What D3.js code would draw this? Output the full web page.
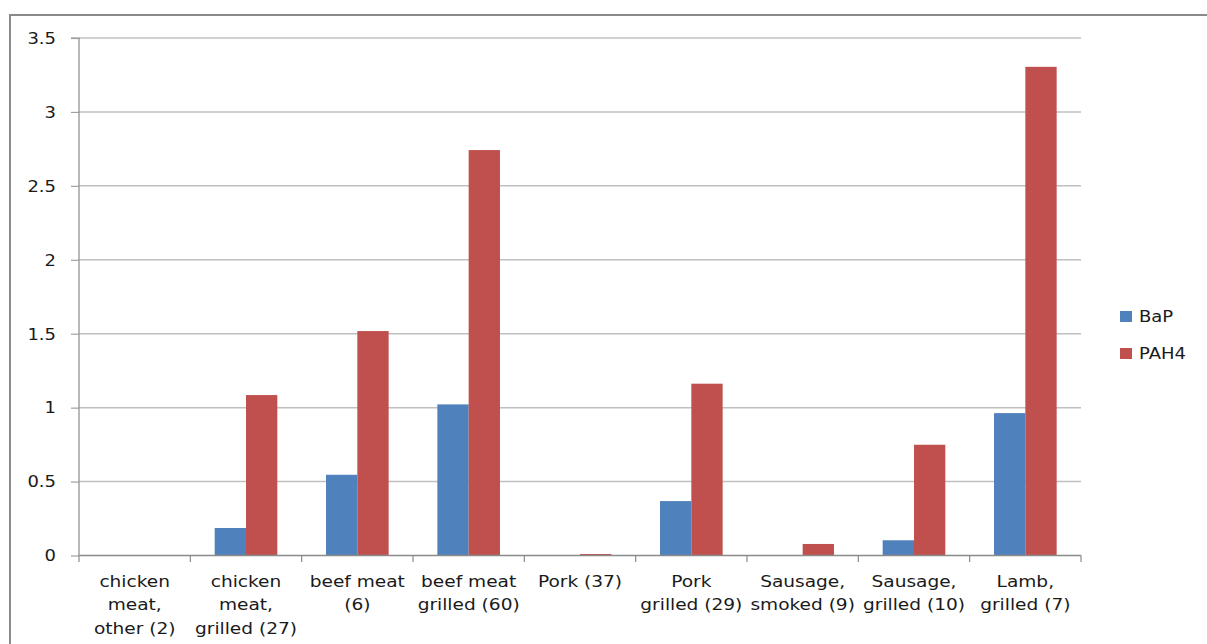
<!DOCTYPE html>
<html><head><meta charset="utf-8">
<script src="https://cdn.jsdelivr.net/npm/d3@7"></script>
<style>body{margin:0;background:#fff;}svg{display:block;}</style>
</head><body>
<script>
const categories = [
  ["chicken","meat,","other (2)"],
  ["chicken","meat,","grilled (27)"],
  ["beef meat","(6)"],
  ["beef meat","grilled (60)"],
  ["Pork (37)"],
  ["Pork","grilled (29)"],
  ["Sausage,","smoked (9)"],
  ["Sausage,","grilled (10)"],
  ["Lamb,","grilled (7)"]
];
const seriesNames = ["BaP","PAH4"];
const bapValues  = [0, 0.186, 0.546, 1.022, 0, 0.368, 0, 0.103, 0.963];
const pah4Values = [0, 1.085, 1.518, 2.742, 0.01, 1.162, 0.078, 0.749, 3.305];
const yTicks = [0, 0.5, 1, 1.5, 2, 2.5, 3, 3.5];
const colors = ["#4F81BD", "#C0504D"];

const W = 1207, H = 644;
const svg = d3.select("body").append("svg").attr("width", W).attr("height", H);
const FONT = "DejaVu Sans, Verdana, sans-serif";
const SX = 1.16;

// outer frame
svg.append("rect").attr("x",10).attr("y",15).attr("width",W+20).attr("height",H+20)
  .attr("fill","none").attr("stroke","#8a8a8a").attr("stroke-width",2);

const x0 = 79, x1 = 1081, yTop = 38, yBot = 555.5;
const idx = categories.map((d,i)=>i);
const x = d3.scaleBand().domain(idx).range([x0,x1]).paddingInner(0).paddingOuter(0);
const y = d3.scaleLinear().domain([0,3.5]).range([yBot,yTop]);
const groupFrac = 0.5626;
const xs = d3.scaleBand().domain([0,1]).range([0, x.bandwidth()*groupFrac]);
const groupOffset = x.bandwidth()*(1-groupFrac)/2;

// gridlines
svg.append("g").selectAll("line").data(yTicks.filter(t=>t>0)).join("line")
  .attr("x1",x0).attr("x2",x1).attr("y1",d=>y(d)).attr("y2",d=>y(d))
  .attr("stroke","#c0c0c0").attr("stroke-width",1.5);

// y axis
const yAxis = svg.append("g").attr("transform",`translate(${x0},0)`)
  .call(d3.axisLeft(y).tickValues(yTicks).tickSize(8).tickPadding(0).tickFormat(d3.format("")));
yAxis.select(".domain").attr("stroke","#8a8a8a").attr("stroke-width",1.2).attr("d",`M-8,${yTop}H0V${yBot}`);
yAxis.selectAll(".tick line").attr("stroke","#a0a0a0").attr("stroke-width",1.2);
yAxis.selectAll(".tick text").remove();
svg.append("g").selectAll("text").data(yTicks).join("text")
  .attr("transform",d=>`translate(56,${y(d)+5.8}) scale(${SX},1)`)
  .attr("text-anchor","end").attr("font-family",FONT).attr("font-size",15.5).attr("fill","#1a1a1a")
  .text(d=>d3.format("")(d));

// bars
const series = [bapValues, pah4Values];
series.forEach((vals,s)=>{
  svg.append("g").selectAll("rect").data(vals).join("rect")
    .attr("x",(d,i)=>x(i)+groupOffset+xs(s))
    .attr("width",xs.bandwidth())
    .attr("y",d=>y(d))
    .attr("height",d=>yBot-y(d))
    .attr("fill",colors[s]);
});

// x axis
const xAxis = svg.append("g");
xAxis.append("line").attr("x1",x0).attr("x2",x1).attr("y1",yBot).attr("y2",yBot)
  .attr("stroke","#8a8a8a").attr("stroke-width",1.5);
const tickPos = idx.map(i=>x(i)).concat([x1]);
xAxis.selectAll("line.tk").data(tickPos).join("line").attr("class","tk")
  .attr("x1",d=>d).attr("x2",d=>d).attr("y1",yBot).attr("y2",562)
  .attr("stroke","#8a8a8a").attr("stroke-width",1.2);

const lbl = svg.append("g");
categories.forEach((lines,i)=>{
  const cx = x(i)+x.bandwidth()/2;
  lines.forEach((t,j)=>{
    lbl.append("text")
      .attr("transform",`translate(${cx},${587+j*23.3}) scale(${SX},1)`)
      .attr("text-anchor","middle").attr("font-family",FONT).attr("font-size",16).attr("fill","#1a1a1a")
      .text(t);
  });
});

// legend
const lg = svg.append("g");
seriesNames.forEach((n,i)=>{
  const yy = 311 + i*37;
  lg.append("rect").attr("x",1120).attr("y",yy).attr("width",12).attr("height",11).attr("fill",colors[i]);
  lg.append("text").attr("transform",`translate(1139,${yy+11}) scale(${SX},1)`)
    .attr("font-family",FONT).attr("font-size",15.5).attr("fill","#1a1a1a").text(n);
});
</script>
</body></html>
